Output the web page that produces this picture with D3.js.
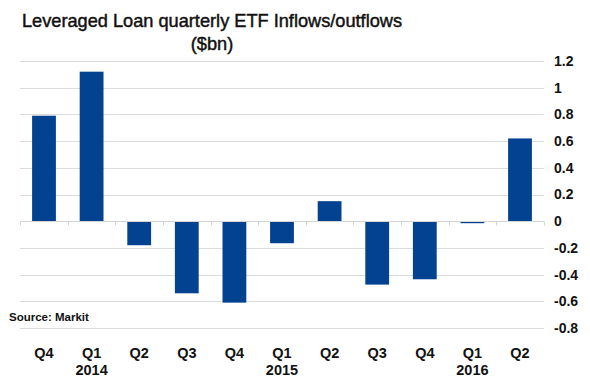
<!DOCTYPE html>
<html>
<head>
<meta charset="utf-8">
<script src="https://cdn.jsdelivr.net/npm/d3@7"></script>
<style>
  html, body { margin: 0; padding: 0; background: #fff; }
  svg { display: block; font-family: Arial, "Liberation Sans", sans-serif; }
</style>
</head>
<body>
<svg id="chart" width="590" height="385"></svg>
<script>
const quarters = ["Q4", "Q1", "Q2", "Q3", "Q4", "Q1", "Q2", "Q3", "Q4", "Q1", "Q2"];
const years = ["", "2014", "", "", "", "2015", "", "", "", "2016", ""];
const flows = [0.79, 1.12, -0.18, -0.54, -0.61, -0.165, 0.15, -0.475, -0.435, -0.015, 0.62];
const yTicks = [1.2, 1, 0.8, 0.6, 0.4, 0.2, 0, -0.2, -0.4, -0.6, -0.8];
const titleLines = ["Leveraged Loan quarterly ETF Inflows/outflows", "($bn)"];
const sourceText = "Source: Markit";

const svg = d3.select("#chart");
const idx = d3.range(flows.length);

const x = d3.scaleBand().domain(idx).range([20.2, 543.8]).paddingInner(0.5).paddingOuter(0.25);
const y = d3.scaleLinear().domain([-0.8, 1.2]).range([328, 61]);

// gridlines
svg.append("g").selectAll("line").data(yTicks.filter(d => d !== 0)).join("line")
  .attr("x1", 20).attr("x2", 544)
  .attr("y1", d => Math.round(y(d)) + 0.5).attr("y2", d => Math.round(y(d)) + 0.5)
  .attr("stroke", "#dcdcdc").attr("stroke-width", 1);

// bars
svg.append("g").selectAll("rect").data(idx).join("rect")
  .attr("x", i => x(i))
  .attr("width", x.bandwidth())
  .attr("y", i => y(Math.max(0, flows[i])))
  .attr("height", i => Math.abs(y(flows[i]) - y(0)))
  .attr("fill", "#034291");

// zero axis line with small category ticks
const zeroY = Math.round(y(0)) + 0.5;
svg.append("line").attr("x1", 20).attr("x2", 544).attr("y1", zeroY).attr("y2", zeroY)
  .attr("stroke", "#d4d4d4").attr("stroke-width", 1);
const step = x.step();
const boundaries = d3.range(flows.length + 1).map(i => 20.2 + i * step);
svg.append("g").selectAll("line").data(boundaries).join("line")
  .attr("x1", d => Math.round(d) + 0.5).attr("x2", d => Math.round(d) + 0.5)
  .attr("y1", zeroY).attr("y2", zeroY + 4)
  .attr("stroke", "#d4d4d4").attr("stroke-width", 1);

// right y-axis labels
svg.append("g").selectAll("text").data(yTicks).join("text")
  .attr("x", 554).attr("y", d => y(d))
  .attr("dy", "0.35em")
  .attr("font-size", 14).attr("font-weight", "bold").attr("fill", "#111")
  .text(d => d3.format("")(d).replace("−", "-"));

// category labels
const xl = svg.append("g");
xl.selectAll("text.q").data(idx).join("text").attr("class", "q")
  .attr("x", i => x(i) + x.bandwidth() / 2).attr("y", 358)
  .attr("text-anchor", "middle").attr("font-size", 14.5).attr("font-weight", "bold").attr("fill", "#111")
  .text(i => quarters[i]);
xl.selectAll("text.yr").data(idx.filter(i => years[i])).join("text").attr("class", "yr")
  .attr("x", i => x(i) + x.bandwidth() / 2).attr("y", 375)
  .attr("text-anchor", "middle").attr("font-size", 14.5).attr("font-weight", "bold").attr("fill", "#111")
  .text(i => years[i]);

// title
svg.selectAll("text.title").data(titleLines).join("text").attr("class", "title")
  .attr("x", 212).attr("y", (d, i) => 27 + i * 23).attr("text-anchor", "middle")
  .attr("font-size", 18.2).attr("fill", "#111")
  .attr("stroke", "#111").attr("stroke-width", 0.45)
  .text(d => d);

// source
svg.append("text").attr("x", 9).attr("y", 321)
  .attr("font-size", 11.5).attr("font-weight", "bold").attr("fill", "#111")
  .text(sourceText);
</script>
</body>
</html>
